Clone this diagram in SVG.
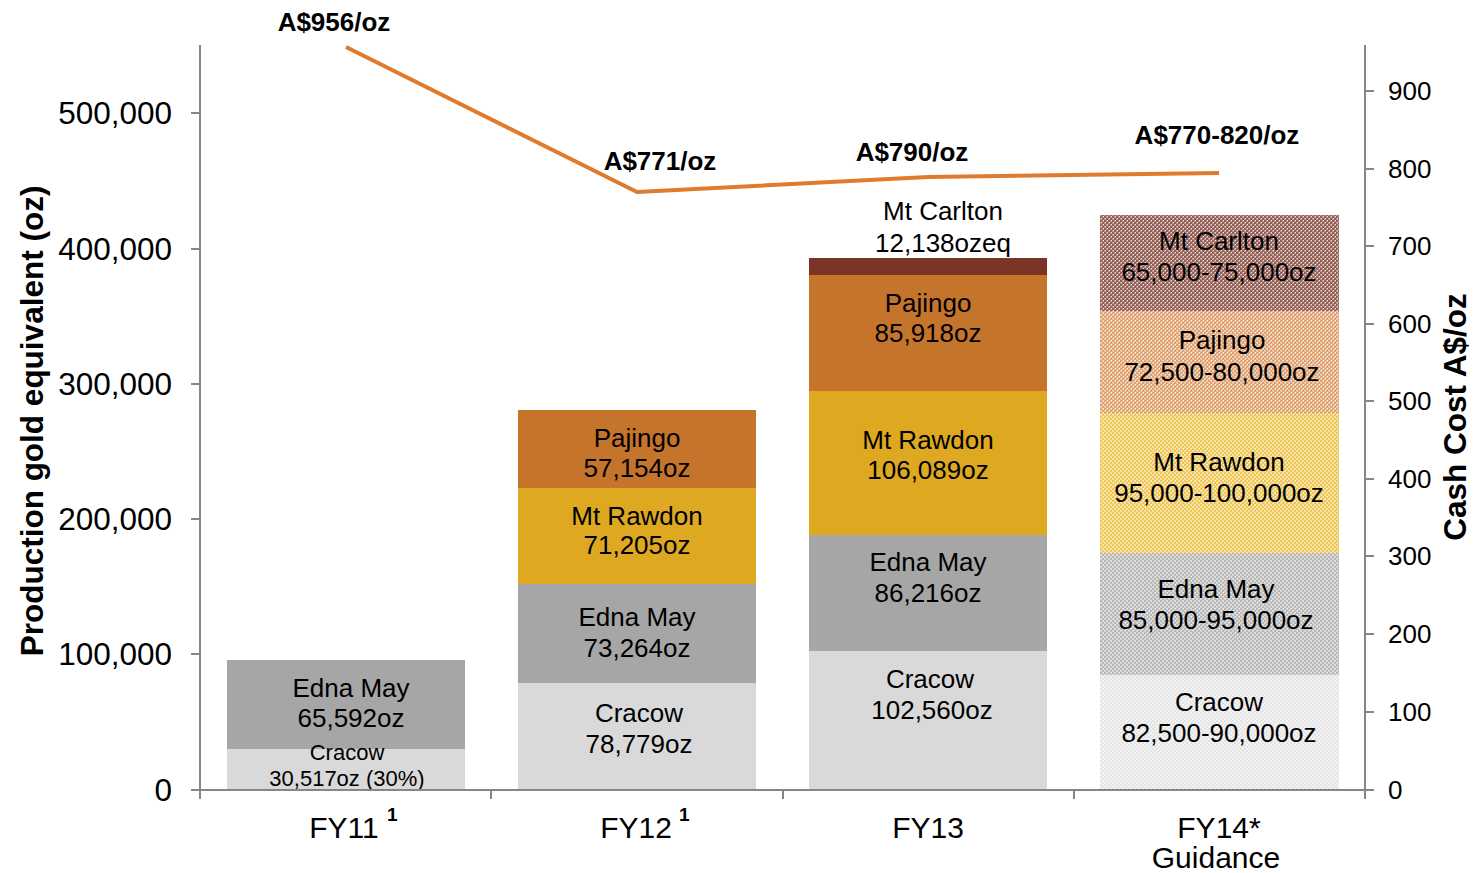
<svg xmlns="http://www.w3.org/2000/svg" width="1476" height="873" viewBox="0 0 1476 873">
<defs>
<style>
text{font-family:"Liberation Sans",Arial,sans-serif;fill:#000}
.bl{font-size:26px;text-anchor:middle}
.sm{font-size:22px;text-anchor:middle}
.lt{font-size:31.5px;text-anchor:end}
.rt{font-size:26px;text-anchor:start}
.cat{font-size:30px;text-anchor:middle}
.sup{font-size:19px;font-weight:bold}
.cost{font-size:26px;font-weight:bold;text-anchor:middle}
.title{font-size:31.5px;font-weight:bold;text-anchor:middle}
.axis{stroke:#868686;stroke-width:2;fill:none}
</style>
<pattern id="pCar" width="4" height="4" patternUnits="userSpaceOnUse">
<rect width="4" height="4" fill="#B8908A"/><rect width="2" height="2" fill="#945F57"/><rect x="2" y="2" width="2" height="2" fill="#945F57"/><rect x="3" y="0" width="1" height="1" fill="#F2E6E2"/><rect x="1" y="2" width="1" height="1" fill="#F2E6E2"/>
</pattern>
<pattern id="pPaj" width="4" height="4" patternUnits="userSpaceOnUse">
<rect width="4" height="4" fill="#EDC4A0"/><rect width="2" height="2" fill="#DFA274"/><rect x="2" y="2" width="2" height="2" fill="#DFA274"/><rect x="3" y="0" width="1" height="1" fill="#FBEFE4"/><rect x="1" y="2" width="1" height="1" fill="#FBEFE4"/>
</pattern>
<pattern id="pRaw" width="4" height="4" patternUnits="userSpaceOnUse">
<rect width="4" height="4" fill="#F6DC8E"/><rect width="2" height="2" fill="#EEC658"/><rect x="2" y="2" width="2" height="2" fill="#EEC658"/><rect x="3" y="0" width="1" height="1" fill="#FDF6E0"/><rect x="1" y="2" width="1" height="1" fill="#FDF6E0"/>
</pattern>
<pattern id="pEdn" width="4" height="4" patternUnits="userSpaceOnUse">
<rect width="4" height="4" fill="#D2D2D2"/><rect width="2" height="2" fill="#B8B8B8"/><rect x="2" y="2" width="2" height="2" fill="#B8B8B8"/><rect x="3" y="0" width="1" height="1" fill="#F2F2F2"/><rect x="1" y="2" width="1" height="1" fill="#F2F2F2"/>
</pattern>
<pattern id="pCra" width="4" height="4" patternUnits="userSpaceOnUse">
<rect width="4" height="4" fill="#F0F0F0"/><rect width="2" height="2" fill="#E4E4E4"/><rect x="2" y="2" width="2" height="2" fill="#E4E4E4"/><rect x="3" y="0" width="1" height="1" fill="#FAFAFA"/><rect x="1" y="2" width="1" height="1" fill="#FAFAFA"/>
</pattern>
</defs>
<rect width="1476" height="873" fill="#fff"/>

<g id="fy11">
<rect x="227" y="660" width="238" height="89" fill="#A6A6A6"/>
<rect x="227" y="749" width="238" height="41" fill="#D9D9D9"/>
<text class="bl" x="351" y="697">Edna May</text>
<text class="bl" x="351" y="727">65,592oz</text>
<text class="sm" x="347" y="760">Cracow</text>
<text class="sm" x="347" y="786">30,517oz (30%)</text>
</g>

<g id="fy12">
<rect x="518" y="410" width="238" height="78" fill="#C5742B"/>
<rect x="518" y="488" width="238" height="96" fill="#DEA821"/>
<rect x="518" y="584" width="238" height="99" fill="#A6A6A6"/>
<rect x="518" y="683" width="238" height="107" fill="#D9D9D9"/>
<text class="bl" x="637" y="447">Pajingo</text>
<text class="bl" x="637" y="477">57,154oz</text>
<text class="bl" x="637" y="525">Mt Rawdon</text>
<text class="bl" x="637" y="554">71,205oz</text>
<text class="bl" x="637" y="626">Edna May</text>
<text class="bl" x="637" y="657">73,264oz</text>
<text class="bl" x="639" y="722">Cracow</text>
<text class="bl" x="639" y="753">78,779oz</text>
</g>

<g id="fy13">
<rect x="809" y="258" width="238" height="17" fill="#7B3426"/>
<rect x="809" y="275" width="238" height="116" fill="#C5742B"/>
<rect x="809" y="391" width="238" height="144" fill="#DEA821"/>
<rect x="809" y="535" width="238" height="116" fill="#A6A6A6"/>
<rect x="809" y="651" width="238" height="139" fill="#D9D9D9"/>
<text class="bl" x="943" y="220">Mt Carlton</text>
<text class="bl" x="943" y="252">12,138ozeq</text>
<text class="bl" x="928" y="312">Pajingo</text>
<text class="bl" x="928" y="342">85,918oz</text>
<text class="bl" x="928" y="449">Mt Rawdon</text>
<text class="bl" x="928" y="479">106,089oz</text>
<text class="bl" x="928" y="571">Edna May</text>
<text class="bl" x="928" y="602">86,216oz</text>
<text class="bl" x="930" y="688">Cracow</text>
<text class="bl" x="932" y="719">102,560oz</text>
</g>

<g id="fy14">
<rect x="1100" y="215" width="239" height="96" fill="url(#pCar)"/>
<rect x="1100" y="311" width="239" height="102" fill="url(#pPaj)"/>
<rect x="1100" y="413" width="239" height="140" fill="url(#pRaw)"/>
<rect x="1100" y="553" width="239" height="122" fill="url(#pEdn)"/>
<rect x="1100" y="675" width="239" height="115" fill="url(#pCra)"/>
<text class="bl" x="1219" y="250">Mt Carlton</text>
<text class="bl" x="1219" y="281">65,000-75,000oz</text>
<text class="bl" x="1222" y="349">Pajingo</text>
<text class="bl" x="1222" y="381">72,500-80,000oz</text>
<text class="bl" x="1219" y="471">Mt Rawdon</text>
<text class="bl" x="1219" y="502">95,000-100,000oz</text>
<text class="bl" x="1216" y="598">Edna May</text>
<text class="bl" x="1216" y="629">85,000-95,000oz</text>
<text class="bl" x="1219" y="711">Cracow</text>
<text class="bl" x="1219" y="742">82,500-90,000oz</text>
</g>

<g id="axes">
<path class="axis" d="M200 45V790M1365 45V790M200 790H1365"/>
<path class="axis" d="M191 790H200M191 654H200M191 519H200M191 384H200M191 249H200M191 113H200"/>
<path class="axis" d="M1365 790H1374M1365 712H1374M1365 634H1374M1365 556H1374M1365 479H1374M1365 401H1374M1365 324H1374M1365 246H1374M1365 169H1374M1365 91H1374"/>
<path class="axis" d="M200 790V799M491 790V799M783 790V799M1074 790V799M1365 790V799"/>
<text class="lt" x="172" y="801">0</text>
<text class="lt" x="172" y="665">100,000</text>
<text class="lt" x="172" y="530">200,000</text>
<text class="lt" x="172" y="395">300,000</text>
<text class="lt" x="172" y="260">400,000</text>
<text class="lt" x="172" y="124">500,000</text>
<text class="rt" x="1388" y="799">0</text>
<text class="rt" x="1388" y="721">100</text>
<text class="rt" x="1388" y="643">200</text>
<text class="rt" x="1388" y="565">300</text>
<text class="rt" x="1388" y="488">400</text>
<text class="rt" x="1388" y="410">500</text>
<text class="rt" x="1388" y="333">600</text>
<text class="rt" x="1388" y="255">700</text>
<text class="rt" x="1388" y="178">800</text>
<text class="rt" x="1388" y="100">900</text>
<text class="cat" x="344" y="838">FY11</text>
<text class="sup" x="387" y="821">1</text>
<text class="cat" x="636" y="838">FY12</text>
<text class="sup" x="679" y="821">1</text>
<text class="cat" x="928" y="838">FY13</text>
<text class="cat" x="1219" y="838">FY14*</text>
<text class="cat" x="1216" y="868">Guidance</text>
<text class="title" transform="translate(43 421) rotate(-90)">Production gold equivalent (oz)</text>
<text class="title" transform="translate(1466 417) rotate(-90)">Cash Cost A$/oz</text>
</g>

<g id="connectors">
<polyline points="346,47 637,192 928,177 1219,173" fill="none" stroke="#E07B2E" stroke-width="4" stroke-linejoin="round"/>
</g>
<g id="cost-labels">
<text class="cost" x="334" y="31">A$956/oz</text>
<text class="cost" x="660" y="170">A$771/oz</text>
<text class="cost" x="912" y="161">A$790/oz</text>
<text class="cost" x="1217" y="144">A$770-820/oz</text>
</g>
</svg>
